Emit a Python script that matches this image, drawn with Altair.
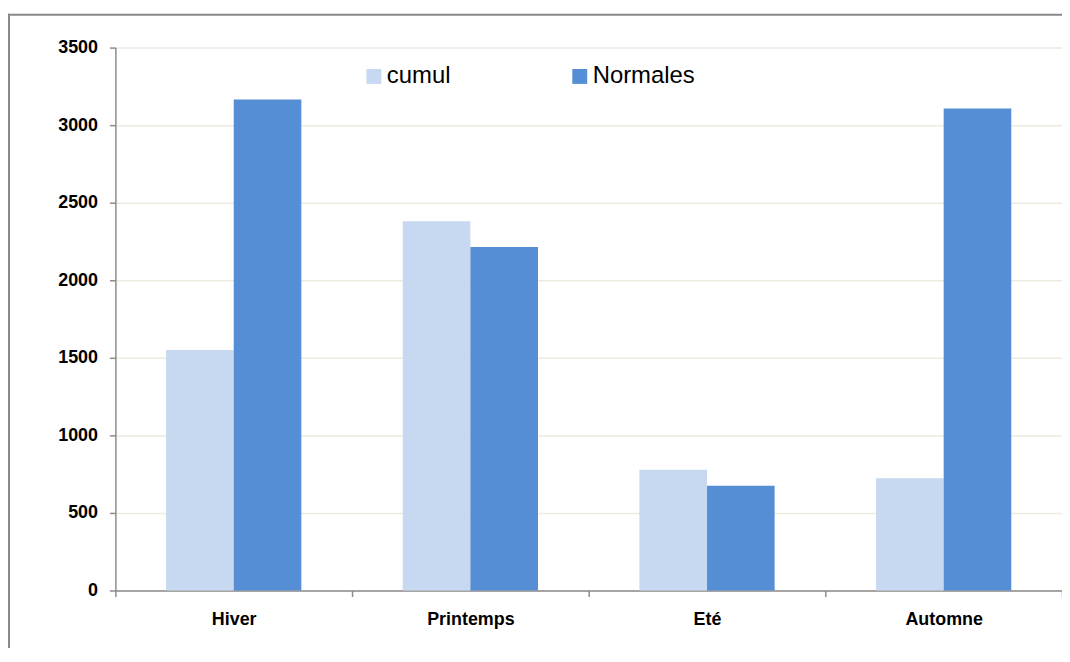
import altair as alt
import pandas as pd

saisons = ["Hiver", "Printemps", "Eté", "Automne"]
series = ["cumul", "Normales"]
cumul = [1550, 2380, 778, 723]
normales = [3165, 2215, 676, 3107]
couleurs = ["#C6D9F1", "#558ED5"]
y_ticks = [0, 500, 1000, 1500, 2000, 2500, 3000, 3500]

df = pd.DataFrame({
    "saison": saisons * 2,
    "serie": [series[0]] * len(saisons) + [series[1]] * len(saisons),
    "valeur": cumul + normales,
})

W, H = 952, 546

bars = alt.Chart(df).mark_bar().encode(
    x=alt.X("saison:N", sort=saisons,
            scale=alt.Scale(paddingInner=0, paddingOuter=0),
            axis=alt.Axis(title=None, labelAngle=0, tickBand="extent",
                          tickSize=6, labelPadding=14, grid=False)),
    xOffset=alt.XOffset("serie:N", sort=series,
                        scale=alt.Scale(paddingInner=0, paddingOuter=0.75)),
    y=alt.Y("valeur:Q", scale=alt.Scale(domain=[0, 3500], nice=False),
            axis=alt.Axis(title=None, values=y_ticks, format="d", tickSize=6, labelPadding=12,
                          grid=True, gridColor="#EDEBE0", gridWidth=1.5)),
    color=alt.Color("serie:N", sort=series,
                    scale=alt.Scale(domain=series, range=couleurs),
                    legend=alt.Legend(title=None, orient="none", legendX=248, legendY=17,
                                      direction="horizontal", columns=2,
                                      symbolType="square", symbolSize=225,
                                      symbolStrokeWidth=0, labelFontSize=24,
                                      labelFont="Liberation Sans", labelColor="#000000",
                                      labelOffset=1, columnPadding=117, padding=0)),
)

frame_left = alt.Chart(alt.Data(values=[{}])).mark_rule(color="#898989", strokeWidth=2).encode(
    x=alt.value(-107), y=alt.value(-34), y2=alt.value(H + 80))
frame_top = alt.Chart(alt.Data(values=[{}])).mark_rule(color="#898989", strokeWidth=2).encode(
    x=alt.value(-108), x2=alt.value(W + 20), y=alt.value(-33))

chart = alt.layer(bars, frame_left, frame_top).properties(
    width=W, height=H,
    padding={"left": 108, "top": 38, "right": 0, "bottom": 56},
    autosize=alt.AutoSizeParams(type="none"),
).configure_view(strokeWidth=0).configure_axis(
    labelFont="Liberation Sans", labelFontSize=18, labelFontWeight="bold",
    labelColor="#000000", domainColor="#8C8C8C", domainWidth=1.5,
    tickColor="#8C8C8C", tickWidth=1.5,
)

chart.save("out.html", embed_options={"renderer": "svg", "actions": False})
